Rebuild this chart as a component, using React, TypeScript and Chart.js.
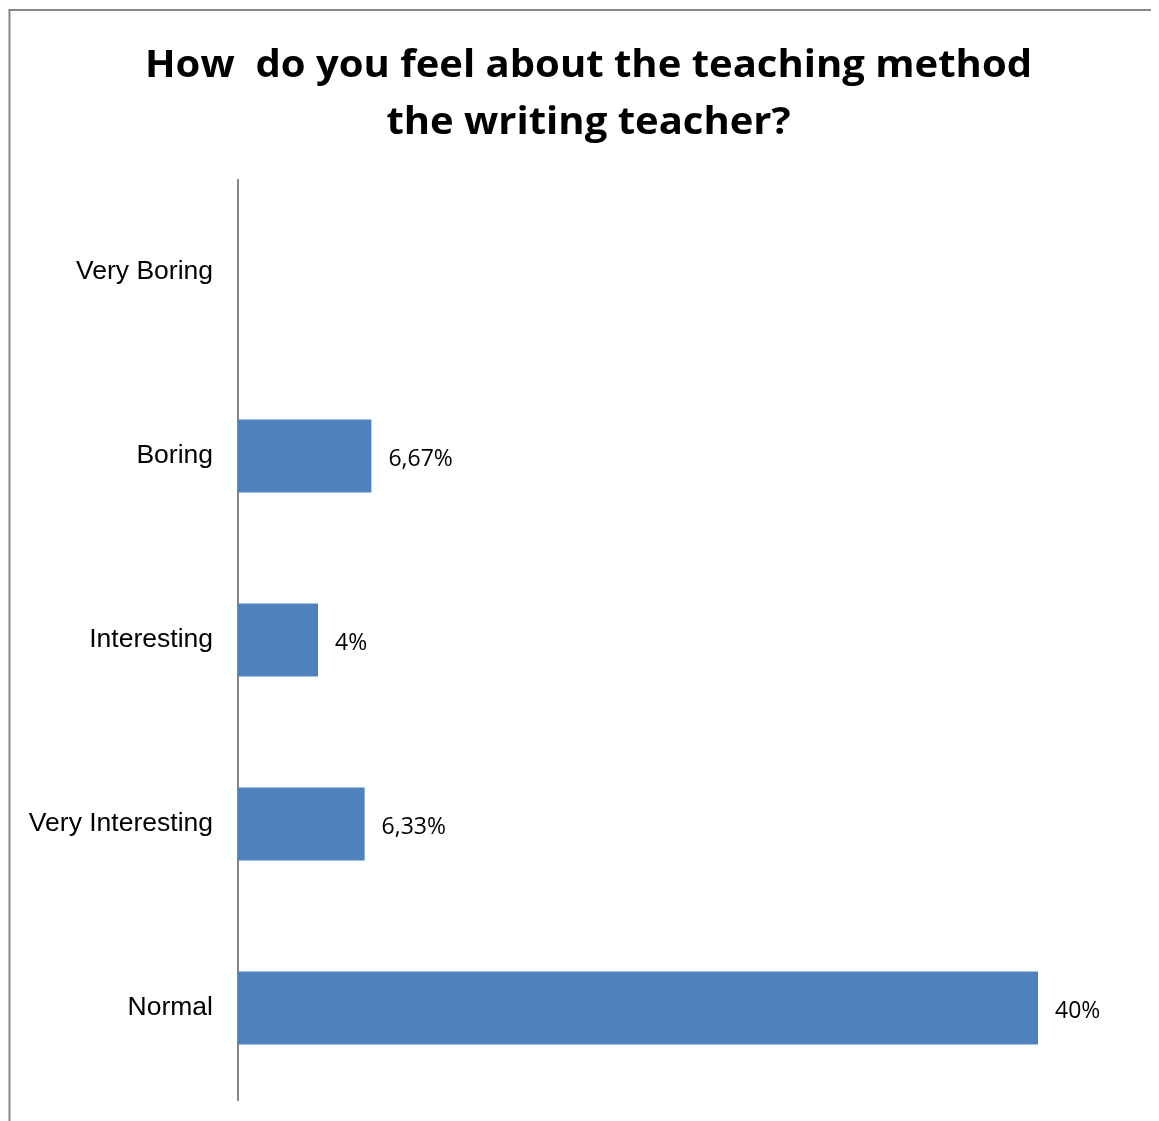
import React, { useEffect, useRef } from "react";
import { Chart, registerables } from "chart.js";

Chart.register(...registerables);

const categories = ["Very Boring", "Boring", "Interesting", "Very Interesting", "Normal"];
const values: (number | null)[] = [null, 6.67, 4, 6.33, 40];
const valueLabels = ["", "6,67%", "4%", "6,33%", "40%"];
const titleLines = ["How  do you feel about the teaching method", "the writing teacher?"];

const W = 1151;
const H = 1113;

export default function App() {
  const ref = useRef<HTMLCanvasElement>(null);

  useEffect(() => {
    const canvas = ref.current;
    if (!canvas) return;

    const framePlugin = {
      id: "frame",
      beforeDraw(chart: any) {
        const ctx = chart.ctx;
        ctx.save();
        ctx.fillStyle = "#ffffff";
        ctx.fillRect(0, 0, W, H);
        ctx.fillStyle = "#878787";
        ctx.fillRect(0.5, 1, 2, H);
        ctx.fillRect(0.5, 1, W, 2);
        ctx.restore();
      },
    };

    const titlePlugin = {
      id: "titleText",
      afterDraw(chart: any) {
        const ctx = chart.ctx;
        ctx.save();
        ctx.font = 'bold 37px "Open Sans", sans-serif';
        ctx.fillStyle = "#000000";
        const w = ctx.measureText(titleLines[0]).width;
        const sx = 887 / w;
        titleLines.forEach((t, i) => {
          ctx.save();
          ctx.translate(580.5, 69 + i * 57);
          ctx.scale(sx, 1);
          ctx.textAlign = "center";
          ctx.textBaseline = "alphabetic";
          ctx.fillText(t, 0, 0);
          ctx.restore();
        });
        ctx.restore();
      },
    };

    const valueLabelPlugin = {
      id: "valueLabels",
      afterDatasetsDraw(chart: any) {
        const ctx = chart.ctx;
        const meta = chart.getDatasetMeta(0);
        ctx.save();
        ctx.font = '23px "Open Sans", sans-serif';
        ctx.fillStyle = "#000000";
        ctx.textAlign = "left";
        ctx.textBaseline = "middle";
        meta.data.forEach((bar: any, i: number) => {
          if (values[i] == null) return;
          ctx.fillText(valueLabels[i], bar.x + 17, bar.y + 3);
        });
        ctx.restore();
      },
    };

    const chart = new Chart(canvas, {
      type: "bar",
      data: {
        labels: categories,
        datasets: [
          {
            data: values as any,
            backgroundColor: "#4F81BD",
            borderWidth: 0,
            categoryPercentage: 1,
            barPercentage: 0.397,
          },
        ],
      },
      options: {
        indexAxis: "y",
        responsive: false,
        animation: false,
        layout: { padding: { left: 0, top: 172, right: 121, bottom: 21 } },
        plugins: {
          legend: { display: false },
          tooltip: { enabled: false },
          title: { display: false },
        },
        scales: {
          x: { type: "linear", min: 0, max: 40, display: false },
          y: {
            z: 1,
            grid: { display: false, drawTicks: false },
            border: { display: true, color: "#868686", width: 2 },
            ticks: {
              color: "#000000",
              padding: 25,
              font: { family: '"Liberation Sans", Arial, sans-serif', size: 26.5 },
            },
            afterFit(scale: any) {
              scale.width = 230;
              scale.paddingTop = 0;
              scale.paddingBottom = 0;
            },
          },
        },
      },
      plugins: [framePlugin, titlePlugin, valueLabelPlugin],
    });

    return () => chart.destroy();
  }, []);

  return (
    <div style={{ width: W, height: H }}>
      <canvas ref={ref} width={W} height={H} style={{ display: "block" }} />
    </div>
  );
}
